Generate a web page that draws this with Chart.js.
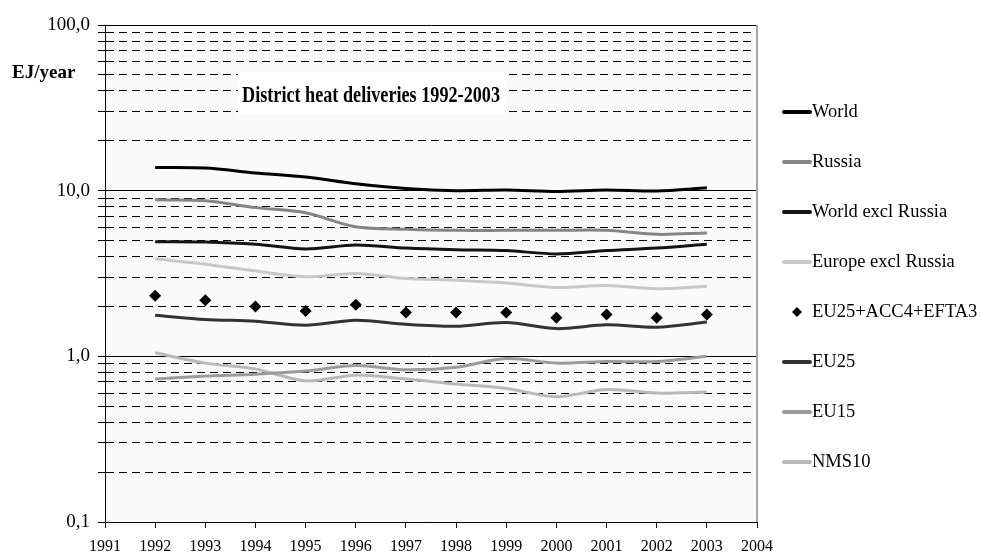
<!DOCTYPE html>
<html>
<head>
<meta charset="utf-8">
<title>District heat deliveries 1992-2003</title>
<script src="https://cdn.jsdelivr.net/npm/chart.js@4/dist/chart.umd.min.js"></script>
<style>
  html, body { margin: 0; padding: 0; background: #fff; }
  #wrap { width: 982px; height: 553px; position: relative; }
</style>
</head>
<body>
<div id="wrap"><canvas id="chart" width="982" height="553"></canvas></div>
<script>
// --- Data (EJ/year) ---
const years = [1992, 1993, 1994, 1995, 1996, 1997, 1998, 1999, 2000, 2001, 2002, 2003];

const world          = [13.8, 13.7, 12.8, 12.1, 11.0, 10.3, 10.0, 10.1, 9.9, 10.1, 9.95, 10.4];
const russia         = [8.8, 8.7, 7.9, 7.35, 6.05, 5.85, 5.76, 5.76, 5.76, 5.76, 5.45, 5.55];
const worldExRussia  = [4.92, 4.9, 4.75, 4.45, 4.7, 4.5, 4.4, 4.35, 4.15, 4.35, 4.5, 4.75];
const europeExRussia = [3.88, 3.6, 3.27, 3.02, 3.16, 2.95, 2.88, 2.77, 2.6, 2.68, 2.56, 2.65];
const eu25Acc4Efta3  = [2.32, 2.18, 2.0, 1.88, 2.05, 1.84, 1.84, 1.84, 1.71, 1.79, 1.71, 1.79];
const eu25           = [1.77, 1.67, 1.63, 1.54, 1.65, 1.56, 1.52, 1.6, 1.47, 1.55, 1.5, 1.61];
const eu15           = [0.73, 0.76, 0.78, 0.815, 0.88, 0.83, 0.86, 0.97, 0.91, 0.93, 0.93, 1.0];
const nms10          = [1.05, 0.91, 0.84, 0.71, 0.77, 0.73, 0.68, 0.64, 0.57, 0.63, 0.6, 0.61];

// y ticks: 0.1..0.9, 1..9, 10..90, 100
const yTicks = [0.1, 0.2, 0.3, 0.4, 0.5, 0.6, 0.7, 0.8, 0.9,
                1, 2, 3, 4, 5, 6, 7, 8, 9,
                10, 20, 30, 40, 50, 60, 70, 80, 90, 100];
const yMajor = [0.1, 1, 10, 100];

const chartTitle = 'District heat deliveries 1992-2003';
const yUnit = 'EJ/year';

const serif = "'Liberation Serif', 'DejaVu Serif', serif";

function pts(values) {
  return years.map((y, i) => ({ x: y, y: values[i] }));
}

function lineSet(label, values, color) {
  return {
    label,
    data: pts(values),
    borderColor: color,
    backgroundColor: color,
    borderWidth: 3,
    pointRadius: 0,
    tension: 0.3,
    fill: false,
  };
}

const isMajor = v => yMajor.some(m => Math.abs(m - v) < 1e-9);

// --- Plugins: plot background, title box, unit label, legend ---
const decorPlugin = {
  id: 'decor',
  beforeDraw(chart) {
    const { ctx, chartArea: a } = chart;
    ctx.save();
    ctx.fillStyle = '#fafafa';
    ctx.fillRect(a.left, a.top, a.right - a.left, a.bottom - a.top);
    ctx.restore();
  },
  afterDatasetsDraw(chart) {
    const { ctx, chartArea: a } = chart;
    ctx.save();
    // right frame edge (grey)
    ctx.strokeStyle = '#a6a6a6';
    ctx.lineWidth = 2;
    ctx.beginPath();
    ctx.moveTo(a.right, a.top);
    ctx.lineTo(a.right, a.bottom);
    ctx.stroke();

    // title box
    ctx.fillStyle = '#ffffff';
    ctx.fillRect(238, 72, 268, 43);
    ctx.fillStyle = '#000';
    ctx.font = 'bold 24px ' + serif;
    ctx.textBaseline = 'alphabetic';
    const w = ctx.measureText(chartTitle).width;
    ctx.translate(242, 102);
    ctx.scale(258 / w, 1);
    ctx.fillText(chartTitle, 0, 0);
    ctx.restore();

    ctx.save();
    ctx.fillStyle = '#000';
    ctx.font = 'bold 19px ' + serif;
    ctx.textBaseline = 'middle';
    ctx.fillText(yUnit, 12, 73);

    // legend
    ctx.font = '18.5px ' + serif;
    chart.data.datasets.forEach((ds, i) => {
      const y = 112 + i * 50;
      if (ds.showLine === false) {
        ctx.fillStyle = ds.backgroundColor;
        ctx.beginPath();
        ctx.moveTo(797, y - 5);
        ctx.lineTo(802, y);
        ctx.lineTo(797, y + 5);
        ctx.lineTo(792, y);
        ctx.closePath();
        ctx.fill();
        ctx.fillStyle = '#000';
        ctx.fillText(ds.label, 812, y);
      } else {
        ctx.strokeStyle = ds.borderColor;
        ctx.lineWidth = 4;
        ctx.lineCap = 'round';
        ctx.beginPath();
        ctx.moveTo(784, y);
        ctx.lineTo(810, y);
        ctx.stroke();
        ctx.fillStyle = '#000';
        ctx.fillText(ds.label, 812, y);
      }
    });
    ctx.restore();
  }
};

new Chart(document.getElementById('chart'), {
  type: 'line',
  data: {
    datasets: [
      lineSet('World', world, '#000000'),
      lineSet('Russia', russia, '#858585'),
      lineSet('World excl Russia', worldExRussia, '#141414'),
      lineSet('Europe excl Russia', europeExRussia, '#c8c8c8'),
      {
        label: 'EU25+ACC4+EFTA3',
        data: pts(eu25Acc4Efta3),
        showLine: false,
        pointStyle: 'rectRot',
        pointRadius: 6,
        pointBackgroundColor: '#000',
        pointBorderColor: '#000',
        backgroundColor: '#000',
        borderColor: '#000',
        borderWidth: 0,
      },
      lineSet('EU25', eu25, '#333333'),
      lineSet('EU15', eu15, '#9c9c9c'),
      lineSet('NMS10', nms10, '#b9b9b9'),
    ]
  },
  options: {
    responsive: false,
    animation: false,
    layout: { padding: { left: 0, right: 225, top: 25, bottom: 0 } },
    plugins: {
      legend: { display: false },
      tooltip: { enabled: false },
      title: { display: false },
    },
    scales: {
      x: {
        type: 'linear',
        min: 1991,
        max: 2004,
        afterFit: s => { s.height = 31; },
        ticks: {
          stepSize: 1,
          autoSkip: false,
          maxRotation: 0,
          padding: 9,
          color: '#000',
          font: { family: serif, size: 16 },
          callback: v => String(v),
        },
        grid: { drawOnChartArea: false, drawTicks: true, tickLength: 6, color: '#000', lineWidth: 1 },
        border: { display: true, color: '#000', width: 1 },
      },
      y: {
        type: 'logarithmic',
        min: 0.1,
        max: 100,
        afterFit: s => { s.width = 105; },
        afterBuildTicks: s => { s.ticks = yTicks.map(v => ({ value: v, major: isMajor(v) })); },
        ticks: {
          autoSkip: false,
          padding: 8,
          color: '#000',
          font: { family: serif, size: 19 },
          callback: v => isMajor(v) ? v.toFixed(1).replace('.', ',') : '',
        },
        grid: {
          color: '#000',
          lineWidth: 1,
          tickLength: 7,
        },
        border: {
          display: true,
          color: '#000',
          width: 1,
          dash: c => (c.tick && !isMajor(c.tick.value)) ? [8, 5] : [],
        },
      }
    }
  },
  plugins: [decorPlugin]
});
</script>
</body>
</html>
